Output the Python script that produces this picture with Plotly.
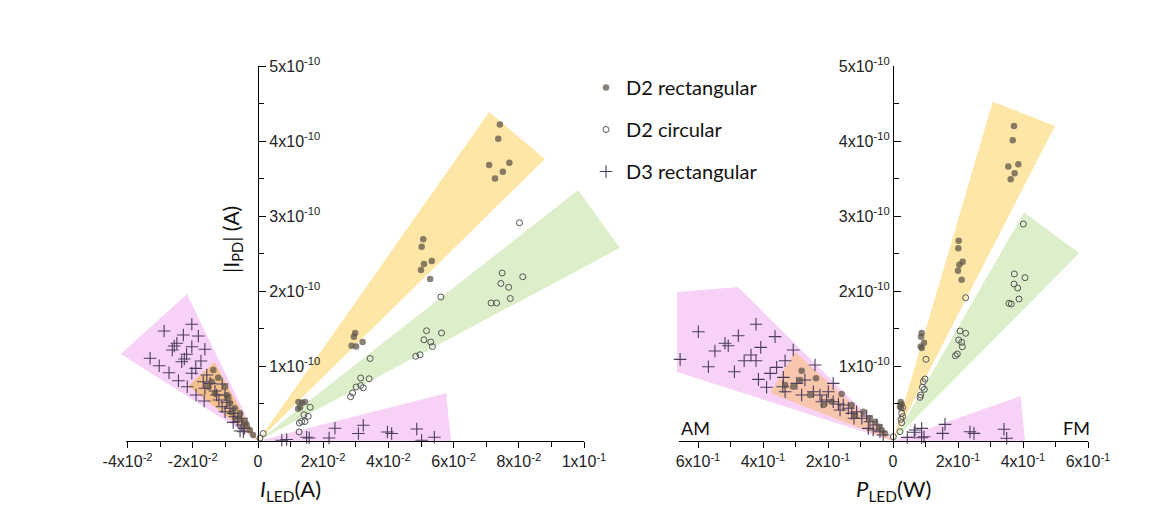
import numpy as np
import plotly.graph_objects as go

# ---------------- data (y values in units of 1e-10 A) ----------------
# Left panel: photodiode current vs LED current I_LED (A); negative I = AM side
i_d2rect_x = [0.0742, 0.0737, 0.0709, 0.0771, 0.0751, 0.0727, 0.0507, 0.0502, 0.0509, 0.0533, 0.0500, 0.0528,
              0.0298, 0.0294, 0.0287, 0.0301, 0.0321, 0.0124, 0.0135, 0.0129, 0.0144, 0.0123,
              -0.0137, -0.0122, -0.0101, -0.0096, -0.0091, -0.0086, -0.0132, -0.0152, -0.0142, -0.0071,
              -0.0055, -0.0081, -0.0060, -0.0040, -0.0035, -0.0025, -0.0015]
i_d2rect_y = [4.22, 4.03, 3.68, 3.71, 3.59, 3.50, 2.69, 2.59, 2.36, 2.40, 2.28, 2.16,
              1.44, 1.39, 1.27, 1.26, 1.32, 0.52, 0.51, 0.45, 0.52, 0.43,
              0.947, 0.844, 0.724, 0.613, 0.569, 0.503, 0.636, 0.724, 0.791, 0.436,
              0.369, 0.383, 0.303, 0.257, 0.213, 0.147, 0.08]

i_d2circ_x = [0.0802, 0.0749, 0.0812, 0.0745, 0.0769, 0.0774, 0.0715, 0.0732, 0.0561, 0.0517, 0.0563, 0.0509,
              0.0530, 0.0535, 0.0484, 0.0497, 0.0344, 0.0315, 0.0341, 0.0301, 0.0315, 0.0323, 0.0290, 0.0284,
              0.0160, 0.0141, 0.0154, 0.0134, 0.0144, 0.0127, 0.0126, 0.0016, 0.0006]
i_d2circ_y = [2.91, 2.24, 2.19, 2.10, 2.05, 1.90, 1.84, 1.84, 1.92, 1.47, 1.44, 1.35,
              1.32, 1.26, 1.13, 1.15, 1.10, 0.84, 0.83, 0.72, 0.74, 0.71, 0.64, 0.59,
              0.45, 0.35, 0.33, 0.26, 0.26, 0.24, 0.12, 0.10, 0.04]

i_d3rect_x = [0.0236, 0.0323, 0.0308, 0.0397, 0.0410, 0.0487, 0.0502, 0.0541, 0.0218, 0.0149, 0.0157, 0.0073, 0.0088,
              -0.0203, -0.0288, -0.0229, -0.0183, -0.0249, -0.0257, -0.0203, -0.0163, -0.0263, -0.0219, -0.0331,
              -0.0226, -0.0234, -0.0175, -0.0303, -0.0191, -0.0273, -0.0203, -0.0157, -0.0244, -0.0168, -0.0147,
              -0.0110, -0.0217, -0.0163, -0.0132, -0.0190, -0.0127, -0.0101, -0.0165, -0.0120, -0.0096, -0.0110,
              -0.0086, -0.0076, -0.0101, -0.0071, -0.0050, -0.0062, -0.0076, -0.0050, -0.0042, -0.0055, -0.0045]
i_d3rect_y = [0.17, 0.21, 0.10, 0.12, 0.10, 0.16, 0.01, 0.05, 0.04, 0.05, 0.04, 0.01, 0.02,
              1.556, 1.467, 1.413, 1.40, 1.303, 1.267, 1.257, 1.223, 1.213, 1.156, 1.103,
              1.093, 1.057, 1.067, 1.004, 0.969, 0.911, 0.903, 0.88, 0.804, 0.791, 0.769,
              0.76, 0.724, 0.703, 0.667, 0.613, 0.613, 0.613, 0.533, 0.547, 0.516, 0.457,
              0.436, 0.369, 0.391, 0.324, 0.303, 0.257, 0.249, 0.213, 0.169, 0.133, 0.124]

# Right panel: photodiode current vs LED power P_LED (W); negative P = AM side
p_d2rect_x = [0.3723, 0.3683, 0.3548, 0.3856, 0.3744, 0.3621, 0.2021, 0.2010, 0.2144, 0.2041, 0.2000, 0.2113,
              0.0882, 0.0862, 0.0954, 0.0882, 0.0851, 0.0236, 0.0267, 0.0215, 0.0246,
              -0.281, -0.237, -0.307, -0.255, -0.158, -0.189, -0.214, -0.127, -0.117, -0.091, -0.071,
              -0.055, -0.042, -0.035, -0.286, -0.332, -0.025]
p_d2rect_y = [4.20, 4.01, 3.66, 3.69, 3.57, 3.49, 2.67, 2.57, 2.39, 2.35, 2.27, 2.15,
              1.44, 1.39, 1.31, 1.24, 1.26, 0.52, 0.49, 0.46, 0.44,
              0.938, 0.836, 0.724, 0.613, 0.627, 0.524, 0.48, 0.48, 0.333, 0.391, 0.303,
              0.257, 0.191, 0.147, 0.813, 0.747, 0.103]

p_d2circ_x = [0.401, 0.3733, 0.4062, 0.3723, 0.3836, 0.3877, 0.3569, 0.364, 0.2236, 0.2062, 0.2236, 0.2021,
              0.2113, 0.2133, 0.1918, 0.1979, 0.1015, 0.0985, 0.0933, 0.0903, 0.0964, 0.0851, 0.0831,
              0.0297, 0.0267, 0.0297, 0.0246, 0.0267, 0.0215, 0.001]
p_d2circ_y = [2.893, 2.227, 2.178, 2.093, 2.04, 1.893, 1.836, 1.827, 1.911, 1.467, 1.436, 1.347,
              1.316, 1.257, 1.137, 1.16, 1.089, 0.827, 0.791, 0.716, 0.689, 0.613, 0.582,
              0.444, 0.369, 0.324, 0.289, 0.244, 0.124, 0.057]

p_d3rect_x = [0.044, 0.0656, 0.0882, 0.0954, 0.16, 0.1529, 0.2369, 0.2492, 0.3415, 0.3498, 0.0677, 0.088,
              -0.599, -0.4215, -0.476, -0.363, -0.517, -0.507, -0.548, -0.407, -0.437, -0.458, -0.4215,
              -0.655, -0.568, -0.488, -0.332, -0.358, -0.378, -0.414, -0.389, -0.3375, -0.339, -0.332,
              -0.307, -0.24, -0.296, -0.271, -0.184, -0.281, -0.245, -0.2246, -0.199, -0.219, -0.204,
              -0.184, -0.168, -0.153, -0.163, -0.1375, -0.127, -0.112, -0.12, -0.096, -0.081, -0.071,
              -0.076, -0.05, -0.061, -0.04, -0.03]
p_d3rect_y = [0.049, 0.116, 0.169, 0.057, 0.222, 0.102, 0.124, 0.102, 0.156, 0.036, 0.147, 0.044,
              1.457, 1.556, 1.404, 1.391, 1.303, 1.271, 1.2, 1.249, 1.147, 1.071, 1.071,
              1.089, 0.991, 0.924, 1.071, 0.982, 0.902, 0.822, 0.716, 0.849, 0.724, 0.657,
              1.213, 1.013, 0.769, 0.813, 0.769, 0.613, 0.657, 0.613, 0.657, 0.524, 0.547,
              0.524, 0.493, 0.48, 0.413, 0.436, 0.369, 0.391, 0.303, 0.303, 0.333, 0.257,
              0.169, 0.213, 0.147, 0.124, 0.08]

# Shaded sectors (vertices, same units)
i_fan_am_d3_x = [0, -0.0421, -0.0218, 0];   i_fan_am_d3_y = [0, 1.16, 1.96, 0]
i_fan_am_d2_x = [0, -0.0214, -0.0134, 0];   i_fan_am_d2_y = [0, 0.733, 1.049, 0]
i_fan_fm_rect_x = [0, 0.0709, 0.0880, 0];   i_fan_fm_rect_y = [0, 4.387, 3.76, 0]
i_fan_fm_circ_x = [0, 0.0982, 0.1110, 0];   i_fan_fm_circ_y = [0, 3.347, 2.573, 0]
i_fan_fm_d3_x = [0, 0.0577, 0.0592, 0];     i_fan_fm_d3_y = [0, 0.636, 0.0, 0]

p_fan_am_d3_x = [0, -0.6646, -0.6646, -0.477, 0]; p_fan_am_d3_y = [0, 0.92, 1.987, 2.053, 0]
p_fan_am_d2_x = [0, -0.3785, -0.3015, 0];   p_fan_am_d2_y = [0, 0.64, 1.187, 0]
p_fan_fm_rect_x = [0, 0.3068, 0.4985, 0];   p_fan_fm_rect_y = [0, 4.524, 4.2, 0]
p_fan_fm_circ_x = [0, 0.403, 0.573, 0];     p_fan_fm_circ_y = [0, 3.049, 2.503, 0]
p_fan_fm_d3_x = [0, 0.393, 0.406, 0];       p_fan_fm_d3_y = [0, 0.60, 0.0, 0]

# tick labels
i_tickvals = [-0.04, -0.02, 0, 0.02, 0.04, 0.06, 0.08, 0.1]
i_ticktext = ["-4x10<sup>-2</sup>", "-2x10<sup>-2</sup>", "0", "2x10<sup>-2</sup>", "4x10<sup>-2</sup>",
              "6x10<sup>-2</sup>", "8x10<sup>-2</sup>", "1x10<sup>-1</sup>"]
p_tickvals = [-0.6, -0.4, -0.2, 0, 0.2, 0.4, 0.6]
p_ticktext = ["6x10<sup>-1</sup>", "4x10<sup>-1</sup>", "2x10<sup>-1</sup>", "0", "2x10<sup>-1</sup>",
              "4x10<sup>-1</sup>", "6x10<sup>-1</sup>"]
y_tickvals = [1e-10, 2e-10, 3e-10, 4e-10, 5e-10]
y_ticktext = ["1x10<sup>-10</sup>", "2x10<sup>-10</sup>", "3x10<sup>-10</sup>", "4x10<sup>-10</sup>", "5x10<sup>-10</sup>"]

# ---------------- styling / layout geometry ----------------
W, H = 1172, 522
E = 1e-10
C_MAG = "#f8d2f6"
C_ORA_L = "#f3c08c"
C_ORA_R = "#f8c5ad"
C_YEL = "#fde6a6"
C_GRN = "#dcefca"
C_DOT = "rgba(92,82,70,0.72)"
C_CIRC = "#555555"
C_CROSS = "#4a3c5c"
TICKFONT = dict(family="Liberation Sans, Arial", size=16, color="#222")
TXTFONT = "Lato, Open Sans, sans-serif"

# pixel anchors
Y0, YPX = 441, 75.0          # y=0 pixel row, pixels per 1e-10 A
XL0, XLPX = 258, 3260.0      # left panel x=0 column, px per A
XR0, XRPX = 893, 325.0       # right panel x=0 column, px per W


def xdom(a, b):
    return [a / W, b / W]


def ydom(top, bottom):
    return [(H - bottom) / H, (H - top) / H]


fig = go.Figure()


def fan(x, y, color, xa, ya):
    fig.add_trace(go.Scatter(x=x, y=np.array(y) * E, fill="toself", fillcolor=color, mode="lines",
                             line=dict(width=0, color=color), hoverinfo="skip", showlegend=False,
                             xaxis=xa, yaxis=ya))


# sectors (drawn on wide hidden axes x/y and x2/y2 that share the visible axes' scale)
fan(i_fan_am_d3_x, i_fan_am_d3_y, C_MAG, "x", "y")
fan(i_fan_am_d2_x, i_fan_am_d2_y, C_ORA_L, "x", "y")
fan(i_fan_fm_rect_x, i_fan_fm_rect_y, C_YEL, "x", "y")
fan(i_fan_fm_circ_x, i_fan_fm_circ_y, C_GRN, "x", "y")
fan(i_fan_fm_d3_x, i_fan_fm_d3_y, C_MAG, "x", "y")
fan(p_fan_am_d3_x, p_fan_am_d3_y, C_MAG, "x2", "y2")
fan(p_fan_am_d2_x, p_fan_am_d2_y, C_ORA_R, "x2", "y2")
fan(p_fan_fm_rect_x, p_fan_fm_rect_y, C_YEL, "x2", "y2")
fan(p_fan_fm_circ_x, p_fan_fm_circ_y, C_GRN, "x2", "y2")
fan(p_fan_fm_d3_x, p_fan_fm_d3_y, C_MAG, "x2", "y2")

mk_rect = dict(symbol="circle", size=6.5, color=C_DOT, line=dict(width=0))
mk_circ = dict(symbol="circle-open", size=6, color=C_CIRC, line=dict(width=1))
mk_cross = dict(symbol="cross-thin", size=9, color=C_CROSS, line=dict(width=1.1, color=C_CROSS))

series = [
    ("D3 rectangular", i_d3rect_x, i_d3rect_y, p_d3rect_x, p_d3rect_y, mk_cross, "g3"),
    ("D2 circular", i_d2circ_x, i_d2circ_y, p_d2circ_x, p_d2circ_y, mk_circ, "g2"),
    ("D2 rectangular", i_d2rect_x, i_d2rect_y, p_d2rect_x, p_d2rect_y, mk_rect, "g1"),
]
for name, ix, iy, px, py, mk, grp in series:
    fig.add_trace(go.Scatter(x=ix, y=np.array(iy) * E, mode="markers", marker=mk, name=name,
                             legendgroup=grp, legendrank={"g1": 1, "g2": 2, "g3": 3}[grp],
                             cliponaxis=False, xaxis="x", yaxis="y", hoverinfo="skip"))
    fig.add_trace(go.Scatter(x=px, y=np.array(py) * E, mode="markers", marker=mk, name=name,
                             legendgroup=grp, showlegend=False,
                             cliponaxis=False, xaxis="x2", yaxis="y2", hoverinfo="skip"))

# empty traces so that the visible axes subplots are drawn (on top)
fig.add_trace(go.Scatter(x=[None], y=[None], mode="markers", showlegend=False, hoverinfo="skip",
                         xaxis="x3", yaxis="y3"))
fig.add_trace(go.Scatter(x=[None], y=[None], mode="markers", showlegend=False, hoverinfo="skip",
                         xaxis="x4", yaxis="y4"))

# visible axes geometry
L_LEFT, L_RIGHT = 126, 584
R_LEFT, R_RIGHT = 678.5, 1088
Y_TOP = 66
axis_common = dict(showline=True, linecolor="black", linewidth=1.3, showgrid=False, zeroline=False,
                   tickfont=TICKFONT, tickcolor="black", tickwidth=1.3, fixedrange=True, automargin=False)
hidden = dict(visible=False, fixedrange=True, automargin=False, showgrid=False, zeroline=False)

# hidden wide axes (same scale) for the marks
HX1 = (90, 660)
HX2 = (640, 1140)
HY = (40, 462)

fig.update_layout(
    template="none",
    width=W, height=H, margin=dict(l=0, r=0, t=0, b=0, pad=0), autosize=False,
    paper_bgcolor="white", plot_bgcolor="rgba(0,0,0,0)",
    xaxis3=dict(domain=xdom(L_LEFT, L_RIGHT), range=[(L_LEFT - XL0) / XLPX, (L_RIGHT - XL0) / XLPX],
                anchor="y3", ticks="outside", ticklen=6, tickvals=i_tickvals, ticktext=i_ticktext,
                minor=dict(ticks="outside", dtick=0.01, tick0=0, ticklen=5, tickcolor="black", tickwidth=1.3),
                **axis_common),
    yaxis3=dict(domain=ydom(Y_TOP, Y0), range=[0, (Y0 - Y_TOP) / YPX * E], anchor="free",
                position=XL0 / W, side="right", ticks="outside", ticklen=7,
                tickvals=y_tickvals, ticktext=y_ticktext,
                minor=dict(ticks="outside", dtick=0.5e-10, tick0=0, ticklen=5, tickcolor="black", tickwidth=1.3),
                **axis_common),
    xaxis4=dict(domain=xdom(R_LEFT, R_RIGHT), range=[(R_LEFT - XR0) / XRPX, (R_RIGHT - XR0) / XRPX],
                anchor="y4", ticks="outside", ticklen=6, tickvals=p_tickvals, ticktext=p_ticktext,
                minor=dict(ticks="outside", dtick=0.1, tick0=0, ticklen=5, tickcolor="black", tickwidth=1.3),
                **axis_common),
    yaxis4=dict(domain=ydom(Y_TOP, Y0), range=[0, (Y0 - Y_TOP) / YPX * E], anchor="free",
                position=XR0 / W, side="left", ticks="inside", ticklen=7,
                tickvals=y_tickvals, ticktext=y_ticktext,
                minor=dict(ticks="inside", dtick=0.5e-10, tick0=0, ticklen=5, tickcolor="black", tickwidth=1.3),
                **axis_common),
    xaxis=dict(domain=xdom(*HX1), range=[(HX1[0] - XL0) / XLPX, (HX1[1] - XL0) / XLPX], anchor="y", **hidden),
    yaxis=dict(domain=ydom(*HY), range=[(Y0 - HY[1]) / YPX * E, (Y0 - HY[0]) / YPX * E], anchor="x", **hidden),
    xaxis2=dict(domain=xdom(*HX2), range=[(HX2[0] - XR0) / XRPX, (HX2[1] - XR0) / XRPX], anchor="y2", **hidden),
    yaxis2=dict(domain=ydom(*HY), range=[(Y0 - HY[1]) / YPX * E, (Y0 - HY[0]) / YPX * E], anchor="x2", **hidden),
    showlegend=True,
    legend=dict(x=586 / W, y=(H - 68) / H, xanchor="left", yanchor="top", bgcolor="rgba(0,0,0,0)",
                borderwidth=0,
                font=dict(family=TXTFONT, size=20, color="#111"), tracegroupgap=13,
                itemclick=False, itemdoubleclick=False),
    annotations=[
        dict(text="|I<sub>PD</sub>| (A)", x=232 / W, y=(H - 240) / H, xref="paper", yref="paper",
             xanchor="center", yanchor="middle",
             textangle=-90, showarrow=False, font=dict(family=TXTFONT, size=21, color="#111")),
        dict(text="<i>I</i><sub>LED</sub>(A)", x=290 / W, y=(H - 490) / H, xref="paper", yref="paper",
             xanchor="center", yanchor="middle",
             showarrow=False, font=dict(family=TXTFONT, size=22, color="#111")),
        dict(text="<i>P</i><sub>LED</sub>(W)", x=893 / W, y=(H - 490) / H, xref="paper", yref="paper",
             xanchor="center", yanchor="middle",
             showarrow=False, font=dict(family=TXTFONT, size=22, color="#111")),
        dict(text="AM", x=679 / W, y=(H - 428) / H, xref="paper", yref="paper", xanchor="left",
             yanchor="middle", showarrow=False, font=dict(family=TXTFONT, size=18, color="#111")),
        dict(text="FM", x=1092 / W, y=(H - 428) / H, xref="paper", yref="paper", xanchor="right",
             yanchor="middle", showarrow=False, font=dict(family=TXTFONT, size=18, color="#111")),
    ],
)

fig.write_html("out.html")
